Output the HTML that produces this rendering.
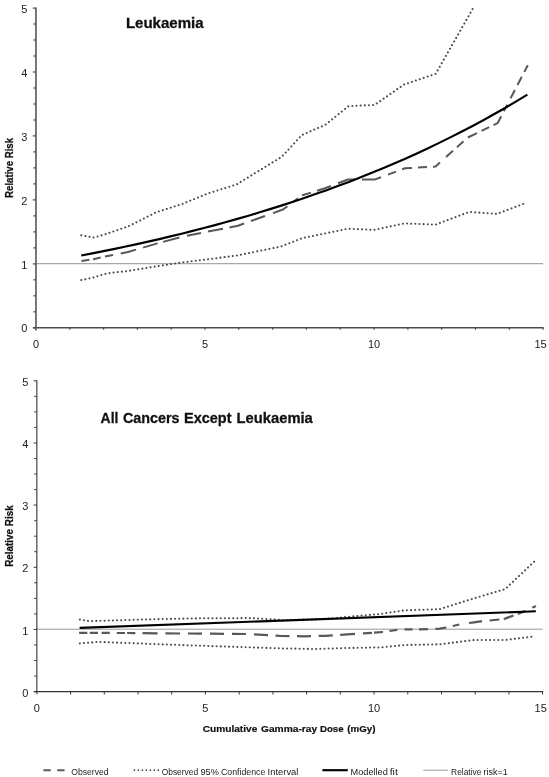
<!DOCTYPE html>
<html><head><meta charset="utf-8"><title>Relative Risk</title>
<style>
html,body{margin:0;padding:0;background:#fff;}
body{width:549px;height:777px;overflow:hidden;font-family:"Liberation Sans",sans-serif;}
svg{display:block;will-change:transform;}
text{font-family:"Liberation Sans",sans-serif;fill:#1a1a1a;}
.tk{font-size:11px;fill:#222;}
.ttl{font-size:15px;font-weight:bold;fill:#111;stroke:#111;stroke-width:0.3px;}
.ax{font-size:9.7px;font-weight:bold;fill:#111;stroke:#111;stroke-width:0.2px;}
.ay{font-size:10.4px;font-weight:bold;fill:#111;stroke:#111;stroke-width:0.25px;}
.lg{font-size:9px;fill:#222;}
.dot{fill:none;stroke:#4a4a4a;stroke-width:2.05;stroke-dasharray:0.01 4.14;stroke-linecap:round;}
.dash{fill:none;stroke:#585858;stroke-width:2.0;stroke-linejoin:round;}
.dash.b{stroke-width:2.2;}
.fit{fill:none;stroke:#000;stroke-width:2.15;stroke-linejoin:round;}
</style></head><body>
<svg width="549" height="777" viewBox="0 0 549 777">
<rect width="549" height="777" fill="#fff"/>
<!-- chart 1 -->
<line x1="35.95" y1="263.7" x2="543.1" y2="263.7" stroke="#a8a8a8" stroke-width="1.3"/>
<line x1="35.95" y1="7.6" x2="35.95" y2="330.4" stroke="#4c4c4c" stroke-width="1.5"/>
<line x1="33.2" y1="327.8" x2="543.6" y2="327.8" stroke="#4c4c4c" stroke-width="1.4"/>
<line x1="32.8" y1="327.8" x2="35.95" y2="327.8" stroke="#4c4c4c" stroke-width="1.2"/>
<line x1="33.4" y1="311.8" x2="35.95" y2="311.8" stroke="#4c4c4c" stroke-width="1.2"/>
<line x1="33.4" y1="295.8" x2="35.95" y2="295.8" stroke="#4c4c4c" stroke-width="1.2"/>
<line x1="33.4" y1="279.8" x2="35.95" y2="279.8" stroke="#4c4c4c" stroke-width="1.2"/>
<line x1="32.8" y1="263.9" x2="35.95" y2="263.9" stroke="#4c4c4c" stroke-width="1.2"/>
<line x1="33.4" y1="247.9" x2="35.95" y2="247.9" stroke="#4c4c4c" stroke-width="1.2"/>
<line x1="33.4" y1="231.9" x2="35.95" y2="231.9" stroke="#4c4c4c" stroke-width="1.2"/>
<line x1="33.4" y1="215.9" x2="35.95" y2="215.9" stroke="#4c4c4c" stroke-width="1.2"/>
<line x1="32.8" y1="199.9" x2="35.95" y2="199.9" stroke="#4c4c4c" stroke-width="1.2"/>
<line x1="33.4" y1="183.9" x2="35.95" y2="183.9" stroke="#4c4c4c" stroke-width="1.2"/>
<line x1="33.4" y1="167.9" x2="35.95" y2="167.9" stroke="#4c4c4c" stroke-width="1.2"/>
<line x1="33.4" y1="151.9" x2="35.95" y2="151.9" stroke="#4c4c4c" stroke-width="1.2"/>
<line x1="32.8" y1="135.9" x2="35.95" y2="135.9" stroke="#4c4c4c" stroke-width="1.2"/>
<line x1="33.4" y1="120.0" x2="35.95" y2="120.0" stroke="#4c4c4c" stroke-width="1.2"/>
<line x1="33.4" y1="104.0" x2="35.95" y2="104.0" stroke="#4c4c4c" stroke-width="1.2"/>
<line x1="33.4" y1="88.0" x2="35.95" y2="88.0" stroke="#4c4c4c" stroke-width="1.2"/>
<line x1="32.8" y1="72.0" x2="35.95" y2="72.0" stroke="#4c4c4c" stroke-width="1.2"/>
<line x1="33.4" y1="56.0" x2="35.95" y2="56.0" stroke="#4c4c4c" stroke-width="1.2"/>
<line x1="33.4" y1="40.0" x2="35.95" y2="40.0" stroke="#4c4c4c" stroke-width="1.2"/>
<line x1="33.4" y1="24.0" x2="35.95" y2="24.0" stroke="#4c4c4c" stroke-width="1.2"/>
<line x1="32.8" y1="8.1" x2="35.95" y2="8.1" stroke="#4c4c4c" stroke-width="1.2"/>
<line x1="69.8" y1="327.8" x2="69.8" y2="329.8" stroke="#4c4c4c" stroke-width="1.2"/>
<line x1="103.6" y1="327.8" x2="103.6" y2="329.8" stroke="#4c4c4c" stroke-width="1.2"/>
<line x1="137.4" y1="327.8" x2="137.4" y2="329.8" stroke="#4c4c4c" stroke-width="1.2"/>
<line x1="171.2" y1="327.8" x2="171.2" y2="329.8" stroke="#4c4c4c" stroke-width="1.2"/>
<line x1="205.0" y1="327.8" x2="205.0" y2="329.8" stroke="#4c4c4c" stroke-width="1.2"/>
<line x1="238.8" y1="327.8" x2="238.8" y2="329.8" stroke="#4c4c4c" stroke-width="1.2"/>
<line x1="272.6" y1="327.8" x2="272.6" y2="329.8" stroke="#4c4c4c" stroke-width="1.2"/>
<line x1="306.4" y1="327.8" x2="306.4" y2="329.8" stroke="#4c4c4c" stroke-width="1.2"/>
<line x1="340.2" y1="327.8" x2="340.2" y2="329.8" stroke="#4c4c4c" stroke-width="1.2"/>
<line x1="374.1" y1="327.8" x2="374.1" y2="329.8" stroke="#4c4c4c" stroke-width="1.2"/>
<line x1="407.9" y1="327.8" x2="407.9" y2="329.8" stroke="#4c4c4c" stroke-width="1.2"/>
<line x1="441.7" y1="327.8" x2="441.7" y2="329.8" stroke="#4c4c4c" stroke-width="1.2"/>
<line x1="475.5" y1="327.8" x2="475.5" y2="329.8" stroke="#4c4c4c" stroke-width="1.2"/>
<line x1="509.3" y1="327.8" x2="509.3" y2="329.8" stroke="#4c4c4c" stroke-width="1.2"/>
<line x1="543.1" y1="327.8" x2="543.1" y2="329.8" stroke="#4c4c4c" stroke-width="1.2"/>
<text x="27.3" y="332.4" text-anchor="end" class="tk">0</text>
<text x="27.3" y="268.5" text-anchor="end" class="tk">1</text>
<text x="27.3" y="204.5" text-anchor="end" class="tk">2</text>
<text x="27.3" y="140.5" text-anchor="end" class="tk">3</text>
<text x="27.3" y="76.6" text-anchor="end" class="tk">4</text>
<text x="27.3" y="12.7" text-anchor="end" class="tk">5</text>
<text x="36.0" y="347.8" text-anchor="middle" class="tk">0</text>
<text x="205.0" y="347.8" text-anchor="middle" class="tk">5</text>
<text x="374.1" y="347.8" text-anchor="middle" class="tk">10</text>
<text x="540.5" y="347.8" text-anchor="middle" class="tk">15</text>
<polyline points="81.3,235.3 93.5,237.5 103.7,234.8 128.5,226.3 156.2,212.3 182.4,203.9 207.0,193.8 236.4,184.5 281.6,156.9 302.0,135.0 325.4,124.8 348.5,106.2 374.7,104.9 403.8,84.6 435.7,73.8 473.6,7.2" class="dot"/>
<polyline points="81.3,280.0 92.5,277.8 101.2,275.0 111.0,272.8 128.5,270.9 156.2,266.4 182.4,262.3 207.0,259.4 238.0,255.3 281.0,246.5 302.4,238.1 325.0,233.5 348.1,228.7 374.3,229.9 404.5,223.4 435.6,224.6 469.2,211.9 496.9,213.9 526.0,202.9" class="dot"/>
<path d="M81.4,261.1 L89.4,259.8 M93.0,259.3 L93.5,259.2 L100.7,257.6 M105.0,256.6 L113.0,255.0 M120.7,253.5 L128.0,252.0 L136.0,249.6 M143.0,247.6 L156.5,243.6 L157.6,243.3 M163.0,241.9 L179.4,237.5 M187.0,235.8 L201.0,233.0 M208.0,231.6 L223.0,228.7 M229.5,227.4 L238.0,225.7 L244.0,223.5 M251.0,221.0 L265.0,216.0 M273.0,213.1 L283.0,209.5 L287.4,206.3 M293.0,202.1 L298.0,198.4 M302.0,195.5 L302.4,195.2 L311.0,192.6 M317.0,190.7 L325.0,188.3 L331.0,186.0 M338.0,183.3 L348.1,179.5 L355.0,179.5 M362.0,179.6 L374.5,179.6 L381.0,177.2 M388.0,174.6 L396.0,171.6 M402.0,169.4 L405.0,168.3 L412.0,167.9 M418.0,167.5 L427.0,167.0 M433.0,166.7 L435.6,166.5 L440.0,162.5 M446.0,157.1 L453.0,150.8 M457.0,147.2 L463.5,141.3 M467.8,137.5 L477.0,133.1 M481.5,130.9 L489.2,127.2 M493.5,125.2 L497.6,123.2 L501.2,116.3 M503.8,111.3 L507.2,104.8 M510.6,98.2 L514.9,90.0 M517.5,85.0 L521.8,76.7 M524.3,71.9 L527.8,65.2" class="dash"/>
<polyline points="81.2,255.5 92.3,253.4 103.5,251.1 114.7,248.9 125.8,246.5 137.0,244.1 148.1,241.6 159.3,239.1 170.4,236.4 181.6,233.7 192.7,230.9 203.9,228.0 215.0,225.1 226.2,222.0 237.4,218.9 248.5,215.7 259.7,212.3 270.8,208.9 282.0,205.4 293.1,201.7 304.3,198.0 315.4,194.1 326.6,190.2 337.7,186.1 348.9,181.9 360.1,177.5 371.2,173.1 382.4,168.5 393.5,163.7 404.7,158.9 415.8,153.9 427.0,148.7 438.1,143.4 449.3,137.9 460.4,132.3 471.6,126.5 482.8,120.5 493.9,114.3 505.1,108.0 516.2,101.4 527.4,94.7" class="fit"/>
<text x="125.9" y="28" class="ttl" textLength="77.7" lengthAdjust="spacingAndGlyphs">Leukaemia</text>
<text transform="translate(12.6,197.9) rotate(-90)" class="ay" textLength="60" lengthAdjust="spacingAndGlyphs">Relative Risk</text>
<!-- chart 2 -->
<line x1="36.85" y1="629.2" x2="542.6" y2="629.2" stroke="#8c8c8c" stroke-width="0.9"/>
<line x1="36.85" y1="380.3" x2="36.85" y2="694.2" stroke="#333" stroke-width="1.1"/>
<line x1="34.1" y1="691.6" x2="543.1" y2="691.6" stroke="#333" stroke-width="1.1"/>
<line x1="33.6" y1="691.6" x2="36.85" y2="691.6" stroke="#333" stroke-width="0.95"/>
<line x1="34.2" y1="676.1" x2="36.85" y2="676.1" stroke="#333" stroke-width="0.95"/>
<line x1="34.2" y1="660.5" x2="36.85" y2="660.5" stroke="#333" stroke-width="0.95"/>
<line x1="34.2" y1="645.0" x2="36.85" y2="645.0" stroke="#333" stroke-width="0.95"/>
<line x1="33.6" y1="629.4" x2="36.85" y2="629.4" stroke="#333" stroke-width="0.95"/>
<line x1="34.2" y1="613.9" x2="36.85" y2="613.9" stroke="#333" stroke-width="0.95"/>
<line x1="34.2" y1="598.4" x2="36.85" y2="598.4" stroke="#333" stroke-width="0.95"/>
<line x1="34.2" y1="582.8" x2="36.85" y2="582.8" stroke="#333" stroke-width="0.95"/>
<line x1="33.6" y1="567.3" x2="36.85" y2="567.3" stroke="#333" stroke-width="0.95"/>
<line x1="34.2" y1="551.7" x2="36.85" y2="551.7" stroke="#333" stroke-width="0.95"/>
<line x1="34.2" y1="536.2" x2="36.85" y2="536.2" stroke="#333" stroke-width="0.95"/>
<line x1="34.2" y1="520.7" x2="36.85" y2="520.7" stroke="#333" stroke-width="0.95"/>
<line x1="33.6" y1="505.1" x2="36.85" y2="505.1" stroke="#333" stroke-width="0.95"/>
<line x1="34.2" y1="489.6" x2="36.85" y2="489.6" stroke="#333" stroke-width="0.95"/>
<line x1="34.2" y1="474.0" x2="36.85" y2="474.0" stroke="#333" stroke-width="0.95"/>
<line x1="34.2" y1="458.5" x2="36.85" y2="458.5" stroke="#333" stroke-width="0.95"/>
<line x1="33.6" y1="443.0" x2="36.85" y2="443.0" stroke="#333" stroke-width="0.95"/>
<line x1="34.2" y1="427.4" x2="36.85" y2="427.4" stroke="#333" stroke-width="0.95"/>
<line x1="34.2" y1="411.9" x2="36.85" y2="411.9" stroke="#333" stroke-width="0.95"/>
<line x1="34.2" y1="396.3" x2="36.85" y2="396.3" stroke="#333" stroke-width="0.95"/>
<line x1="33.6" y1="380.8" x2="36.85" y2="380.8" stroke="#333" stroke-width="0.95"/>
<line x1="70.6" y1="691.6" x2="70.6" y2="694.5" stroke="#333" stroke-width="0.95"/>
<line x1="104.3" y1="691.6" x2="104.3" y2="694.5" stroke="#333" stroke-width="0.95"/>
<line x1="138.0" y1="691.6" x2="138.0" y2="694.5" stroke="#333" stroke-width="0.95"/>
<line x1="171.7" y1="691.6" x2="171.7" y2="694.5" stroke="#333" stroke-width="0.95"/>
<line x1="205.4" y1="691.6" x2="205.4" y2="694.5" stroke="#333" stroke-width="0.95"/>
<line x1="239.2" y1="691.6" x2="239.2" y2="694.5" stroke="#333" stroke-width="0.95"/>
<line x1="272.9" y1="691.6" x2="272.9" y2="694.5" stroke="#333" stroke-width="0.95"/>
<line x1="306.6" y1="691.6" x2="306.6" y2="694.5" stroke="#333" stroke-width="0.95"/>
<line x1="340.3" y1="691.6" x2="340.3" y2="694.5" stroke="#333" stroke-width="0.95"/>
<line x1="374.1" y1="691.6" x2="374.1" y2="694.5" stroke="#333" stroke-width="0.95"/>
<line x1="407.8" y1="691.6" x2="407.8" y2="694.5" stroke="#333" stroke-width="0.95"/>
<line x1="441.5" y1="691.6" x2="441.5" y2="694.5" stroke="#333" stroke-width="0.95"/>
<line x1="475.2" y1="691.6" x2="475.2" y2="694.5" stroke="#333" stroke-width="0.95"/>
<line x1="508.9" y1="691.6" x2="508.9" y2="694.5" stroke="#333" stroke-width="0.95"/>
<line x1="542.6" y1="691.6" x2="542.6" y2="694.5" stroke="#333" stroke-width="0.95"/>
<text x="28.3" y="696.7" text-anchor="end" class="tk">0</text>
<text x="28.3" y="634.5" text-anchor="end" class="tk">1</text>
<text x="28.3" y="572.4" text-anchor="end" class="tk">2</text>
<text x="28.3" y="510.2" text-anchor="end" class="tk">3</text>
<text x="28.3" y="448.1" text-anchor="end" class="tk">4</text>
<text x="28.3" y="385.9" text-anchor="end" class="tk">5</text>
<text x="36.9" y="711.9" text-anchor="middle" class="tk">0</text>
<text x="205.4" y="711.9" text-anchor="middle" class="tk">5</text>
<text x="374.1" y="711.9" text-anchor="middle" class="tk">10</text>
<text x="540.7" y="711.9" text-anchor="middle" class="tk">15</text>
<polyline points="79.8,619.6 89.2,621.1 103.0,620.7 133.0,619.8 160.0,619.1 200.0,618.3 250.0,618.1 274.6,619.4 283.0,620.3 314.8,619.2 335.0,618.2 347.5,616.8 380.0,614.0 405.0,610.3 439.5,609.2 474.0,598.4 505.0,589.2 534.6,561.3" class="dot"/>
<polyline points="79.8,643.4 98.0,641.9 133.0,643.2 160.0,644.3 200.0,645.7 240.0,647.0 282.0,648.4 314.8,649.0 347.5,648.0 380.0,647.4 405.0,645.0 439.5,644.3 474.0,640.0 505.0,640.0 533.4,636.5" class="dot"/>
<path d="M79.1,632.8 L87.3,632.8 M89.8,632.8 L98.0,632.9 M101.6,632.9 L109.8,632.9 M116.8,633.0 L125.0,633.0 M127.1,633.0 L135.3,633.1 M142.5,633.2 L157.6,633.4 M165.4,633.4 L180.0,633.5 M188.0,633.5 L200.0,633.6 L202.0,633.6 M210.0,633.7 L224.0,633.8 M232.0,633.9 L246.0,634.0 M254.0,634.4 L268.0,635.2 M275.5,635.6 L282.0,636.0 L289.5,636.1 M297.0,636.2 L304.0,636.3 L311.0,636.1 M318.7,635.9 L325.0,635.8 L332.8,635.3 M340.2,634.9 L347.5,634.4 L355.0,633.9 M363.0,633.4 L372.0,632.8 M374.0,632.6 L383.0,632.0 M389.5,631.0 L397.0,629.8 L397.3,629.8 M404.5,629.4 L405.0,629.4 L412.5,629.3 M419.0,629.3 L428.0,629.2 M435.4,628.8 L439.5,628.6 L446.3,627.5 M452.8,626.0 L459.3,624.5 M469.0,623.0 L474.0,622.3 L482.0,621.2 M489.6,620.5 L499.4,619.5 M503.7,618.8 L505.0,618.6 L513.5,615.5 M517.8,613.9 L525.4,611.0 M532.3,607.7 L535.9,606.0" class="dash b"/>
<polyline points="79.6,627.9 535.8,611.3" class="fit"/>
<text x="100.6" y="423" class="ttl" textLength="17.8" lengthAdjust="spacingAndGlyphs">All</text><text x="122.9" y="423" class="ttl" textLength="56.6" lengthAdjust="spacingAndGlyphs">Cancers</text><text x="184.1" y="423" class="ttl" textLength="47.4" lengthAdjust="spacingAndGlyphs">Except</text><text x="236.6" y="423" class="ttl" textLength="76.2" lengthAdjust="spacingAndGlyphs">Leukaemia</text>
<text transform="translate(13.2,566.8) rotate(-90)" class="ay" textLength="61.5" lengthAdjust="spacingAndGlyphs">Relative Risk</text>
<text x="202.7" y="731.5" class="ax" textLength="54.6" lengthAdjust="spacingAndGlyphs">Cumulative</text><text x="261.0" y="731.5" class="ax" textLength="56.2" lengthAdjust="spacingAndGlyphs">Gamma-ray</text><text x="320.0" y="731.5" class="ax" textLength="23.6" lengthAdjust="spacingAndGlyphs">Dose</text><text x="347.3" y="731.5" class="ax" textLength="28.2" lengthAdjust="spacingAndGlyphs">(mGy)</text>
<!-- legend -->
<line x1="43.4" y1="770.2" x2="64.6" y2="770.2" stroke="#5a5a5a" stroke-width="1.85" stroke-dasharray="7.4 6.4"/>
<text x="71.2" y="774.8" class="lg" textLength="37.4" lengthAdjust="spacingAndGlyphs">Observed</text>
<line x1="134.4" y1="770.2" x2="158.6" y2="770.2" stroke="#4a4a4a" stroke-width="1.7" stroke-dasharray="0.01 3.97" stroke-linecap="round"/>
<text x="161.7" y="774.8" class="lg" textLength="36.5" lengthAdjust="spacingAndGlyphs">Observed</text><text x="200.5" y="774.8" class="lg" textLength="18.4" lengthAdjust="spacingAndGlyphs">95%</text><text x="221.0" y="774.8" class="lg" textLength="44.4" lengthAdjust="spacingAndGlyphs">Confidence</text><text x="267.6" y="774.8" class="lg" textLength="30.8" lengthAdjust="spacingAndGlyphs">Interval</text>
<line x1="322.4" y1="770.2" x2="347.8" y2="770.2" stroke="#000" stroke-width="2.15"/>
<text x="350.5" y="774.8" class="lg" textLength="37.3" lengthAdjust="spacingAndGlyphs">Modelled</text><text x="389.7" y="774.8" class="lg" textLength="8.2" lengthAdjust="spacingAndGlyphs">fit</text>
<line x1="423.4" y1="770.2" x2="448.2" y2="770.2" stroke="#9a9a9a" stroke-width="1.0"/>
<text x="451.1" y="774.8" class="lg" textLength="30.3" lengthAdjust="spacingAndGlyphs">Relative</text><text x="483.6" y="774.8" class="lg" textLength="24.3" lengthAdjust="spacingAndGlyphs">risk=1</text>
</svg>
</body></html>
